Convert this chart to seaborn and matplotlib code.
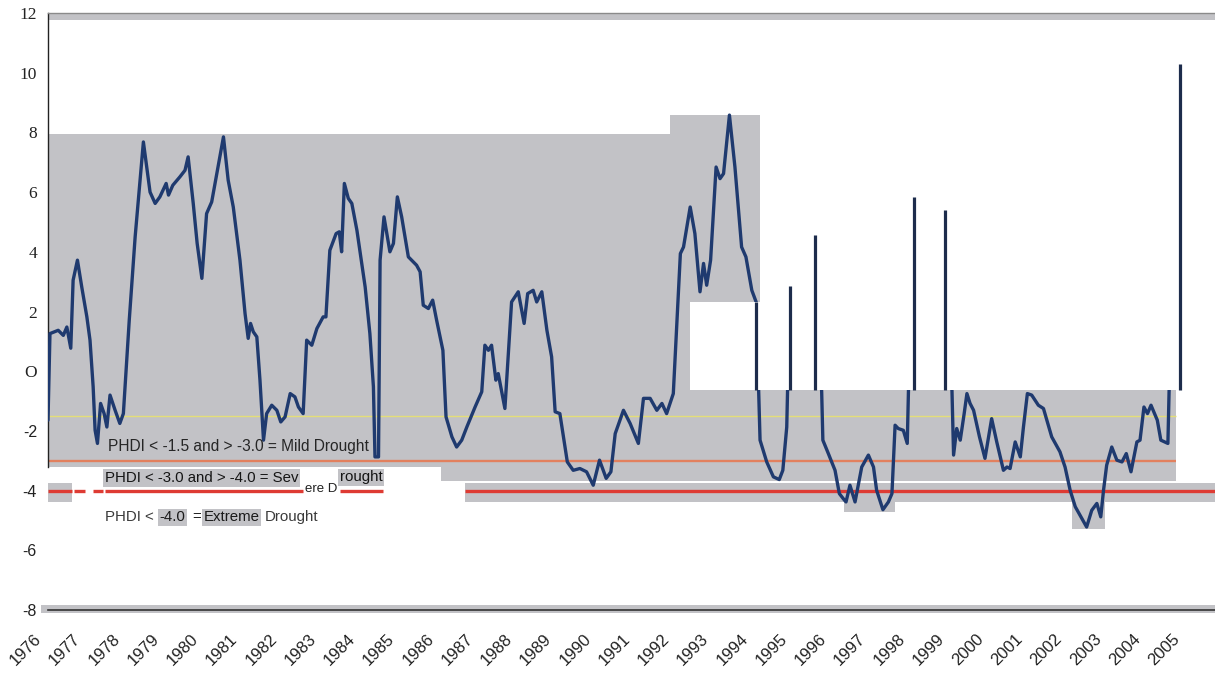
import numpy as np
import pandas as pd
import matplotlib
matplotlib.use("Agg")
import matplotlib.pyplot as plt
import matplotlib.transforms as mtransforms
from matplotlib.patches import Rectangle
import seaborn as sns

# Palmer Hydrological Drought Index, 1976-2005 (decimal year, index value)
years = [
    1976.00, 1976.05, 1976.26, 1976.39, 1976.48, 1976.58, 1976.64, 1976.75, 1976.86, 1976.99,
    1977.07, 1977.15, 1977.20, 1977.26, 1977.34, 1977.43, 1977.50, 1977.58, 1977.71, 1977.83,
    1977.92, 1978.07, 1978.22, 1978.33, 1978.43, 1978.60, 1978.73, 1978.85, 1979.01, 1979.07,
    1979.18, 1979.36, 1979.49, 1979.57, 1979.70, 1979.80, 1979.92, 1980.04, 1980.17, 1980.30,
    1980.47, 1980.59, 1980.72, 1980.89, 1981.02, 1981.10, 1981.16, 1981.23, 1981.32, 1981.40,
    1981.49, 1981.57, 1981.70, 1981.83, 1981.93, 1982.04, 1982.17, 1982.29, 1982.38, 1982.50,
    1982.59, 1982.72, 1982.85, 1983.01, 1983.08, 1983.18, 1983.34, 1983.42, 1983.48, 1983.55,
    1983.65, 1983.74, 1983.87, 1984.08, 1984.20, 1984.29, 1984.33, 1984.42, 1984.46, 1984.56,
    1984.71, 1984.80, 1984.90, 1985.01, 1985.18, 1985.39, 1985.48, 1985.56, 1985.69, 1985.80,
    1985.90, 1986.06, 1986.14, 1986.29, 1986.41, 1986.54, 1986.67, 1986.88, 1987.05, 1987.13,
    1987.22, 1987.30, 1987.41, 1987.47, 1987.64, 1987.81, 1987.98, 1988.13, 1988.22, 1988.36,
    1988.45, 1988.58, 1988.71, 1988.83, 1988.92, 1989.04, 1989.23, 1989.38, 1989.55, 1989.72,
    1989.89, 1990.05, 1990.22, 1990.34, 1990.45, 1990.66, 1990.83, 1991.04, 1991.17, 1991.34,
    1991.51, 1991.64, 1991.76, 1991.93, 1992.11, 1992.19, 1992.36, 1992.48, 1992.61, 1992.70,
    1992.78, 1992.88, 1993.02, 1993.12, 1993.21, 1993.36, 1993.50, 1993.67, 1993.78, 1993.93,
    1994.04, 1994.14, 1994.31, 1994.48, 1994.63, 1994.72, 1994.82, 1994.90, 1995.54, 1995.71,
    1995.74, 1995.88, 1996.05, 1996.16, 1996.26, 1996.33, 1996.43, 1996.56, 1996.73, 1996.90,
    1997.03, 1997.11, 1997.27, 1997.41, 1997.50, 1997.58, 1997.66, 1997.79, 1997.89, 1997.92,
    1998.05, 1998.84, 1999.03, 1999.07, 1999.15, 1999.24, 1999.34, 1999.41, 1999.49, 1999.58,
    1999.73, 1999.87, 2000.04, 2000.17, 2000.34, 2000.43, 2000.51, 2000.64, 2000.77, 2000.85,
    2000.95, 2001.06, 2001.23, 2001.36, 2001.57, 2001.78, 2001.91, 2002.04, 2002.17, 2002.29,
    2002.46, 2002.59, 2002.72, 2002.82, 2002.89, 2002.97, 2003.10, 2003.23, 2003.36, 2003.47,
    2003.59, 2003.74, 2003.82, 2003.92, 2004.01, 2004.10, 2004.26, 2004.35, 2004.53, 2004.56,
    2004.83,
]
phdi = [
    -1.64, 1.26, 1.37, 1.20, 1.48, 0.77, 3.05, 3.72, 2.82, 1.82,
    1.04, -0.52, -1.98, -2.42, -1.08, -1.42, -1.87, -0.80, -1.31, -1.75,
    -1.42, 1.71, 4.50, 6.17, 7.68, 6.00, 5.62, 5.84, 6.29, 5.90,
    6.23, 6.51, 6.73, 7.18, 5.62, 4.28, 3.11, 5.28, 5.67, 6.62,
    7.85, 6.40, 5.50, 3.72, 1.93, 1.10, 1.60, 1.32, 1.15, -0.30,
    -2.31, -1.42, -1.14, -1.31, -1.70, -1.53, -0.75, -0.86, -1.20, -1.42,
    1.04, 0.87, 1.43, 1.82, 1.82, 4.05, 4.61, 4.67, 4.00, 6.29,
    5.79, 5.62, 4.72, 2.82, 1.26, -0.52, -2.87, -2.87, 3.72, 5.17,
    4.00, 4.28, 5.84, 5.17, 3.83, 3.55, 3.33, 2.21, 2.10, 2.38,
    1.71, 0.70, -1.53, -2.20, -2.54, -2.31, -1.87, -1.20, -0.69, 0.87,
    0.70, 0.87, -0.30, -0.08, -1.25, 2.32, 2.66, 1.60, 2.60, 2.71,
    2.32, 2.66, 1.37, 0.48, -1.36, -1.42, -3.04, -3.32, -3.26, -3.37,
    -3.82, -2.98, -3.59, -3.37, -2.09, -1.31, -1.75, -2.42, -0.91, -0.91,
    -1.31, -1.08, -1.42, -0.75, 3.94, 4.16, 5.50, 4.61, 2.66, 3.61,
    2.88, 3.72, 6.84, 6.45, 6.62, 8.58, 6.84, 4.16, 3.83, 2.71,
    2.32, -2.31, -3.04, -3.54, -3.63, -3.32, -1.87, 2.85, 4.55, -0.70,
    -2.31, -2.76, -3.32, -4.10, -4.27, -4.38, -3.82, -4.38, -3.21, -2.81,
    -3.21, -3.99, -4.64, -4.38, -4.10, -1.81, -1.92, -1.98, -2.42, -0.69,
    5.85, 5.40, -0.69, -2.81, -1.92, -2.31, -1.42, -0.75, -1.08, -1.31,
    -2.20, -2.92, -1.59, -2.37, -3.32, -3.21, -3.26, -2.37, -2.87, -1.87,
    -0.75, -0.80, -1.14, -1.25, -2.20, -2.70, -3.21, -3.99, -4.54, -4.82,
    -5.22, -4.66, -4.43, -4.88, -3.99, -3.15, -2.54, -2.98, -3.04, -2.76,
    -3.37, -2.37, -2.31, -1.20, -1.42, -1.14, -1.64, -2.31, -2.42, -0.69,
    10.30,
]

# Peaks that rise into the blank upper-right panel
peak_years = [1994.04, 1994.90, 1995.54, 1998.05, 1998.84, 2004.83]

# Drought thresholds
mild_level = -1.5
severe_level = -3.0
extreme_level = -4.0

tick_years = list(range(1976, 2006))
tick_labels = [str(y) for y in tick_years]
y_ticks = [-8, -6, -4, -2, 0, 2, 4, 6, 8, 10, 12]
y_tick_labels = ["-8", "-6", "-4", "-2", "O", "2", "4", "6", "8", "10", "12"]

sns.set_style("white")
plt.rcParams["font.family"] = ["Liberation Sans", "DejaVu Sans"]

GRAY = "#c2c2c6"
LINE = "#1f3a6f"
SPIKE = "#1d2c4c"
X_END = 2005.73

fig = plt.figure(figsize=(12.15, 6.73), dpi=100)
ax = fig.add_axes([48 / 1215, 1 - 610 / 673, 1167 / 1215, 597 / 673])
ax.set_facecolor("white")


def box(x0, x1, y0, y1, color=GRAY, z=0.5, clip=True):
    ax.add_patch(Rectangle((x0, y0), x1 - x0, y1 - y0, facecolor=color,
                           edgecolor="none", zorder=z, clip_on=clip))


# shaded panels
box(1976, X_END, 11.76, 12.0)
box(1976, 1991.85, -3.21, 7.95)
box(1991.85, 1994.14, 2.31, 8.58)
box(1991.85, 1992.36, -0.64, 2.31)
box(1991.85, 2004.74, -3.68, -0.64)
box(1986.01, 1991.85, -3.68, -3.21)
box(1986.62, X_END, -4.38, -3.76)
box(1976, 1976.61, -4.39, -3.75)
box(1996.28, 1997.58, -4.71, -4.38)
box(2002.08, 2002.93, -5.30, -4.38)
box(1975.82, X_END, -8.10, -7.84, clip=False)

# threshold lines
ax.hlines(mild_level, 1976, 2004.74, color="#e4de78", lw=1.0, zorder=2)
ax.hlines(severe_level, 1976, 2004.74, color="#e2805e", lw=1.7, zorder=2)
for a, b in [(1976, 1976.61), (1976.66, 1976.94), (1977.15, 1977.40),
             (1977.45, 1982.50), (1983.44, 1984.54), (1986.62, X_END)]:
    ax.hlines(extreme_level, a, b, color="#de3b33", lw=2.4, zorder=2.6)

# index series
df = pd.DataFrame({"year": years, "phdi": phdi})
sns.lineplot(data=df, x="year", y="phdi", ax=ax, color=LINE, lw=2.4,
             estimator=None, sort=False, zorder=3)

# blank upper-right panel
box(1994.14, X_END, -0.64, 11.76, color="white", z=4)
box(1992.36, 1994.14, -0.64, 2.31, color="white", z=4)

peak_vals = np.interp(peak_years, years, phdi)
ax.vlines(peak_years, -0.64, peak_vals, color=SPIKE, lw=2.3, zorder=5)

# drought class notes
txt = dict(fontsize=10.8, va="center", ha="left", zorder=6)
hl = dict(facecolor=GRAY, edgecolor="none", pad=1.2)
ax.text(1977.53, -2.51, "PHDI < -1.5 and > -3.0 = Mild Drought", color="#262626",
        **{**txt, "fontsize": 11.2})
ax.text(1977.45, -3.58, "PHDI < -3.0 and > -4.0 = Sev", color="#151515",
        bbox=hl, **{**txt, "zorder": 2.5})
ax.text(1982.55, -3.95, "ere D", color="#202020", fontsize=9.5, va="center", ha="left", zorder=6)
ax.text(1983.44, -3.55, "rought", color="#151515", bbox=hl, **{**txt, "zorder": 2.5})
ax.text(1977.45, -4.89, "PHDI <", color="#3a3a3a", **txt)
ax.text(1978.85, -4.89, "-4.0", color="#1a1a1a", bbox=hl, **txt)
ax.text(1979.67, -4.89, "=", color="#202020", **txt)
ax.text(1979.97, -4.89, "Extreme", color="#1a1a1a", bbox=hl, **txt)
ax.text(1981.53, -4.89, "Drought", color="#3a3a3a", **txt)

# axes
ax.set_xlim(1976, X_END)
ax.set_ylim(-8, 12)
ax.set_xlabel("")
ax.set_ylabel("")
ax.spines["right"].set_visible(False)
ax.spines["top"].set_color("#8a8a8a")
ax.spines["top"].set_linewidth(1.0)
ax.spines["left"].set_bounds(-3.21, 12)
ax.spines["left"].set_color("#222222")
ax.spines["left"].set_linewidth(1.0)
ax.spines["bottom"].set_color("#333333")
ax.spines["bottom"].set_linewidth(1.2)

ax.set_xticks(tick_years)
ax.set_xticklabels(tick_labels, rotation=45, ha="right", va="center",
                   rotation_mode="anchor", fontsize=12, color="#222222")
ax.tick_params(axis="x", direction="out", length=5, width=1, color="#333333", pad=14)
shift = mtransforms.ScaledTranslation(-9 / 100, 0, fig.dpi_scale_trans)
for lab in ax.get_xticklabels():
    lab.set_transform(lab.get_transform() + shift)

ax.set_yticks(y_ticks)
ax.set_yticklabels(y_tick_labels)
ax.tick_params(axis="y", direction="out", length=4, width=1, color="#333333", pad=4)
for lab, v in zip(ax.get_yticklabels(), y_ticks):
    if v >= 0:
        lab.set_fontfamily(["Liberation Serif", "DejaVu Serif"])
        lab.set_fontsize(12.5)
    else:
        lab.set_fontfamily(["Liberation Sans", "DejaVu Sans"])
        lab.set_fontsize(11.5)
    lab.set_color("#222222")

fig.savefig("out.png", dpi=100)
